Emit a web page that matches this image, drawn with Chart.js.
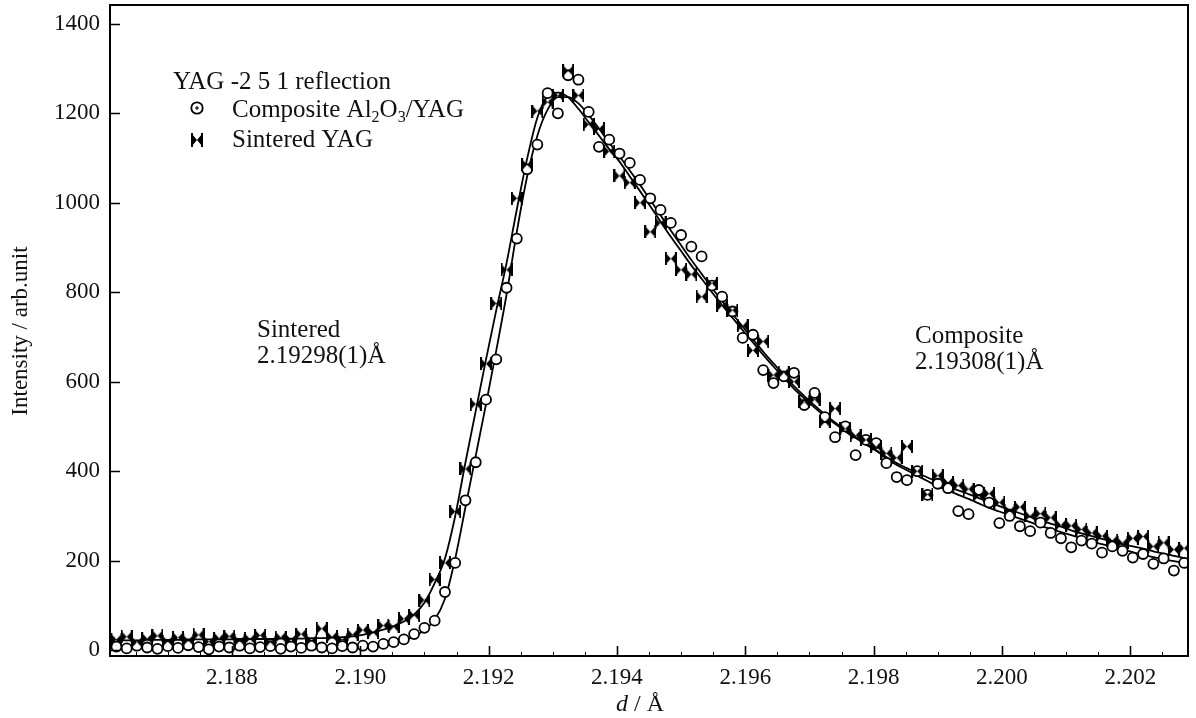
<!DOCTYPE html>
<html>
<head>
<meta charset="utf-8">
<script src="https://cdn.jsdelivr.net/npm/chart.js@4.4.1/dist/chart.umd.min.js"></script>
<style>
  html, body { margin: 0; padding: 0; background: #fff; }
  #wrap { width: 1196px; height: 718px; position: relative; }
</style>
</head>
<body>
<div id="wrap"><canvas id="yagChart"></canvas></div>
<script>
// d-spacing of each measured point (Å)
const dValues = [
  2.18620, 2.18636, 2.18652, 2.18668, 2.18684, 2.18700, 2.18716, 2.18732, 2.18748, 2.18764,
  2.18780, 2.18796, 2.18812, 2.18828, 2.18844, 2.18860, 2.18876, 2.18892, 2.18908, 2.18924,
  2.18940, 2.18956, 2.18972, 2.18988, 2.19004, 2.19020, 2.19036, 2.19052, 2.19068, 2.19084,
  2.19100, 2.19116, 2.19132, 2.19148, 2.19164, 2.19180, 2.19196, 2.19212, 2.19228, 2.19244,
  2.19260, 2.19276, 2.19292, 2.19308, 2.19324, 2.19340, 2.19356, 2.19372, 2.19388, 2.19404,
  2.19420, 2.19436, 2.19452, 2.19468, 2.19484, 2.19500, 2.19516, 2.19532, 2.19548, 2.19564,
  2.19580, 2.19596, 2.19612, 2.19628, 2.19644, 2.19660, 2.19676, 2.19692, 2.19708, 2.19724,
  2.19740, 2.19756, 2.19772, 2.19788, 2.19804, 2.19820, 2.19836, 2.19852, 2.19868, 2.19884,
  2.19900, 2.19916, 2.19932, 2.19948, 2.19964, 2.19980, 2.19996, 2.20012, 2.20028, 2.20044,
  2.20060, 2.20076, 2.20092, 2.20108, 2.20124, 2.20140, 2.20156, 2.20172, 2.20188, 2.20204,
  2.20220, 2.20236, 2.20252, 2.20268, 2.20284
];

// Composite Al2O3/YAG measured intensity
const compositeCounts = [
  8, 4, 10, 6, 3, 9, 5, 11, 7, 2,
  8, 6, 10, 4, 7, 9, 3, 8, 5, 10,
  6, 4, 9, 6, 10, 8, 14, 18, 24, 36,
  50, 66, 130, 195, 335, 420, 560, 650, 810, 920,
  1075, 1130, 1245, 1200, 1285, 1275, 1203, 1125, 1141, 1110,
  1089, 1051, 1010, 984, 955, 928, 902, 880, 815, 790,
  757, 698, 705, 626, 597, 612, 620, 548, 575, 521,
  476, 500, 436, 470, 463, 418, 387, 380, 400, 347,
  372, 362, 311, 304, 358, 330, 284, 300, 277, 266,
  285, 262, 250, 230, 245, 238, 218, 232, 222, 207,
  215, 193, 205, 178, 195
];

// Sintered YAG measured intensity
const sinteredCounts = [
  24, 30, 18, 26, 32, 20, 28, 22, 34, 19,
  27, 31, 21, 25, 33, 18, 29, 24, 36, 22,
  48, 30, 24, 35, 45, 40, 55, 52, 70, 78,
  112, 158, 195, 310, 405, 550, 640, 775, 850, 1010,
  1085, 1205, 1225, 1240, 1295, 1240, 1175, 1165, 1115, 1060,
  1045, 1000, 935, 955, 875, 850, 840, 790, 820, 770,
  760, 725, 670, 690, 615, 620, 600, 555, 560, 510,
  540, 495, 480, 470, 455, 440, 430, 455, 400, 348,
  390, 375, 368, 360, 345, 350, 330, 312, 320, 300,
  305, 296, 280, 278, 270, 262, 255, 245, 240, 250,
  254, 232, 240, 225, 228
];

// fitted profiles
const compositeFit = [
  6, 6, 6, 6, 6, 6, 6, 6, 6, 6,
  7, 7, 7, 7, 7, 7, 7, 7, 7, 8,
  8, 8, 8, 8, 9, 10, 12, 16, 22, 31,
  45, 68, 115, 205, 320, 435, 550, 670, 795, 935,
  1058, 1150, 1208, 1236, 1236, 1222, 1196, 1166, 1134, 1104,
  1072, 1040, 1006, 972, 938, 905, 872, 841, 810, 780,
  752, 723, 695, 667, 641, 615, 590, 568, 547, 527,
  509, 492, 476, 461, 447, 428, 414, 402, 390, 378,
  366, 357, 347, 338, 328, 318, 310, 302, 294, 286,
  278, 271, 264, 257, 250, 243, 237, 231, 225, 219,
  213, 208, 203, 199, 195
];
const sinteredFit = [
  22, 22, 22, 23, 23, 23, 23, 24, 24, 24,
  24, 24, 25, 25, 25, 25, 26, 26, 26, 27,
  27, 28, 29, 31, 34, 40, 46, 54, 64, 80,
  106, 150, 205, 300, 420, 535, 650, 760, 865, 985,
  1098, 1190, 1238, 1246, 1236, 1210, 1180, 1150, 1120, 1092,
  1059, 1026, 992, 958, 924, 892, 860, 830, 800, 771,
  743, 715, 688, 660, 634, 609, 584, 563, 542, 523,
  506, 489, 474, 460, 446, 432, 418, 407, 396, 386,
  376, 366, 357, 349, 340, 331, 322, 314, 306, 298,
  290, 283, 276, 268, 261, 255, 249, 243, 237, 232,
  227, 221, 216, 211, 206
];

const xTickValues = [2.188, 2.190, 2.192, 2.194, 2.196, 2.198, 2.200, 2.202];
const yTickValues = [0, 200, 400, 600, 800, 1000, 1200, 1400];

const serif = '"Liberation Serif", "Times New Roman", serif';
const ink = '#111';

function toPoints(vals) {
  return vals.map((v, i) => ({ x: dValues[i], y: v }));
}

// legend marker: circle with a small cross inside
function makeCircle(size) {
  const c = document.createElement('canvas');
  c.width = size; c.height = size;
  const g = c.getContext('2d');
  const m = size / 2;
  g.beginPath();
  g.arc(m, m, m - 1.3, 0, Math.PI * 2);
  g.fillStyle = '#fff';
  g.fill();
  g.lineWidth = 1.8;
  g.strokeStyle = '#000';
  g.stroke();
  g.lineWidth = 1.2;
  g.beginPath();
  g.moveTo(m - 2, m); g.lineTo(m + 2, m);
  g.moveTo(m, m - 2); g.lineTo(m, m + 2);
  g.stroke();
  return c;
}

// marker: bow tie with end bars
function makeBowtie(w, h) {
  const c = document.createElement('canvas');
  c.width = w; c.height = h;
  const g = c.getContext('2d');
  const cx = w / 2, cy = h / 2;
  g.fillStyle = '#000';
  g.beginPath();
  g.moveTo(1, 1); g.lineTo(cx, cy); g.lineTo(1, h - 1); g.closePath();
  g.moveTo(w - 1, 1); g.lineTo(cx, cy); g.lineTo(w - 1, h - 1); g.closePath();
  g.fill();
  g.fillRect(0, 0, 2, h);
  g.fillRect(w - 2, 0, 2, h);
  return c;
}

const bowtieMark = makeBowtie(12, 13);
const circleLegend = makeCircle(14);
const bowtieLegend = makeBowtie(12, 14);

const decorations = {
  id: 'decorations',
  afterDraw(chart) {
    const { ctx, chartArea: a, scales: { x, y } } = chart;
    ctx.save();
    ctx.strokeStyle = '#000';
    ctx.fillStyle = ink;

    // frame
    ctx.lineWidth = 2;
    ctx.strokeRect(a.left, a.top, a.right - a.left, a.bottom - a.top);

    // inward ticks
    ctx.lineWidth = 1.6;
    ctx.beginPath();
    xTickValues.forEach(v => {
      const px = Math.round(x.getPixelForValue(v)) + 0.5;
      ctx.moveTo(px, a.bottom); ctx.lineTo(px, a.bottom - 10);
    });
    yTickValues.forEach(v => {
      const py = Math.round(y.getPixelForValue(v)) + 0.5;
      ctx.moveTo(a.left, py); ctx.lineTo(a.left + 10, py);
    });
    ctx.stroke();
    ctx.lineWidth = 1;
    ctx.beginPath();
    for (let v = 2.1865; v < 2.2029; v += 0.0005) {
      const px = Math.round(x.getPixelForValue(v)) + 0.5;
      ctx.moveTo(px, a.bottom); ctx.lineTo(px, a.bottom - 4);
    }
    ctx.stroke();

    // axis titles
    ctx.font = '23px ' + serif;
    ctx.textAlign = 'center';
    ctx.textBaseline = 'middle';
    ctx.save();
    ctx.translate(21, 331);
    ctx.rotate(-Math.PI / 2);
    ctx.fillText('Intensity / arb.unit', 0, 0);
    ctx.restore();

    ctx.textBaseline = 'alphabetic';
    ctx.textAlign = 'left';
    ctx.font = 'italic 24px ' + serif;
    const dW = ctx.measureText('d').width;
    ctx.font = '24px ' + serif;
    const restW = ctx.measureText(' / Å').width;
    let tx = 640 - (dW + restW) / 2;
    ctx.font = 'italic 24px ' + serif;
    ctx.fillText('d', tx, 711);
    ctx.font = '24px ' + serif;
    ctx.fillText(' / Å', tx + dW, 711);

    // legend
    ctx.font = '25px ' + serif;
    ctx.fillText('YAG -2 5 1 reflection', 173, 89);
    ctx.drawImage(circleLegend, 197 - 7, 108 - 7);
    ctx.drawImage(bowtieLegend, 197 - 6, 140 - 7);
    const parts = [['Composite Al', false], ['2', true], ['O', false], ['3', true], ['/YAG', false]];
    tx = 232;
    parts.forEach(([t, sub]) => {
      ctx.font = (sub ? '16px ' : '25px ') + serif;
      ctx.fillText(t, tx, sub ? 122 : 117);
      tx += ctx.measureText(t).width;
    });
    ctx.font = '25px ' + serif;
    ctx.fillText('Sintered YAG', 232, 147);

    // peak annotations
    ctx.fillText('Sintered', 257, 337);
    ctx.fillText('2.19298(1)Å', 257, 363);
    ctx.fillText('Composite', 915, 343);
    ctx.fillText('2.19308(1)Å', 915, 369);

    ctx.restore();
  }
};

new Chart(document.getElementById('yagChart'), {
  type: 'scatter',
  data: {
    datasets: [
      {
        label: 'Sintered YAG',
        data: toPoints(sinteredCounts),
        pointStyle: bowtieMark,
        pointRadius: 6,
        showLine: false,
        order: 0
      },
      {
        label: 'Composite Al2O3/YAG',
        data: toPoints(compositeCounts),
        pointStyle: 'circle',
        pointRadius: 5,
        pointBorderWidth: 1.8,
        pointBorderColor: '#000',
        pointBackgroundColor: '#fff',
        showLine: false,
        order: 1
      },
      {
        label: 'Sintered fit',
        data: toPoints(sinteredFit),
        showLine: true,
        pointRadius: 0,
        borderColor: '#000',
        borderWidth: 1.8,
        cubicInterpolationMode: 'monotone',
        order: 2
      },
      {
        label: 'Composite fit',
        data: toPoints(compositeFit),
        showLine: true,
        pointRadius: 0,
        borderColor: '#000',
        borderWidth: 1.8,
        cubicInterpolationMode: 'monotone',
        order: 3
      }
    ]
  },
  options: {
    responsive: true,
    maintainAspectRatio: false,
    devicePixelRatio: 1,
    animation: false,
    events: [],
    layout: { autoPadding: false, padding: { top: 5, right: 8, left: 0, bottom: 0 } },
    plugins: {
      legend: { display: false },
      tooltip: { enabled: false }
    },
    scales: {
      x: {
        type: 'linear',
        min: 2.1861,
        max: 2.2029,
        afterBuildTicks: s => { s.ticks = xTickValues.map(v => ({ value: v })); },
        afterFit: s => {
          s.height = 62;
          s.paddingLeft = 0; s.paddingRight = 0;
        },
        grid: { display: false, drawTicks: false },
        border: { display: false },
        ticks: {
          color: ink,
          padding: 8,
          autoSkip: false,
          maxRotation: 0,
          font: { family: serif, size: 23 },
          callback: v => Number(v).toFixed(3)
        }
      },
      y: {
        type: 'linear',
        min: -13,
        max: 1442,
        afterBuildTicks: s => { s.ticks = yTickValues.map(v => ({ value: v })); },
        afterFit: s => {
          s.width = 110;
          s.paddingTop = 0; s.paddingBottom = 0;
        },
        grid: { display: false, drawTicks: false },
        border: { display: false },
        ticks: {
          color: ink,
          padding: 10,
          font: { family: serif, size: 23 },
          callback: v => String(v)
        }
      }
    }
  },
  plugins: [decorations]
});
</script>
</body>
</html>
